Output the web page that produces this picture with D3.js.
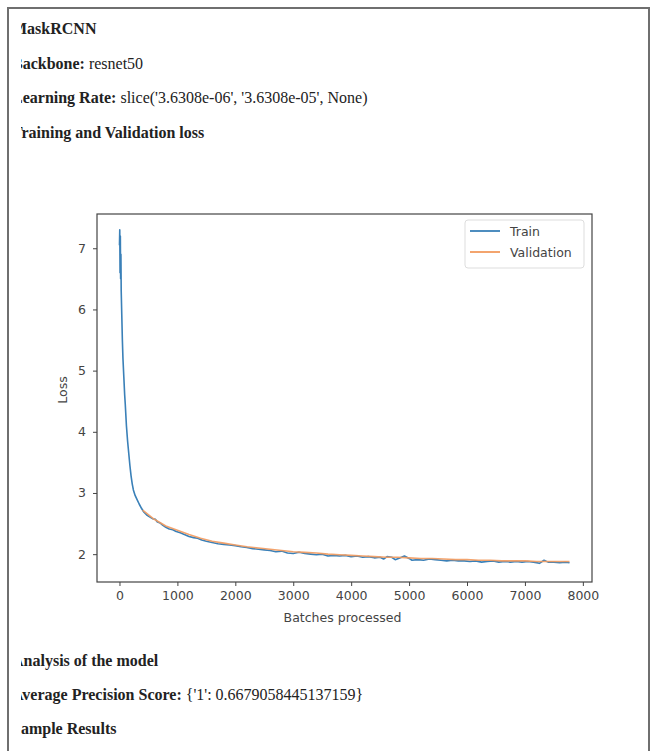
<!DOCTYPE html>
<html>
<head>
<meta charset="utf-8">
<script src="https://cdn.jsdelivr.net/npm/d3@7"></script>
<style>
  body { margin: 0; background: #fff; }
  svg { display: block; }
  .doc { font-family: "Liberation Serif", "Times New Roman", serif; font-size: 16px; fill: #222; }
  .doc .b { font-weight: bold; }
  .plot { font-family: "DejaVu Sans", sans-serif; }
  .axis text { font-size: 12.5px; fill: #444; font-family: "DejaVu Sans", sans-serif; }
  .axis path, .axis line { stroke: #444; }
</style>
</head>
<body>
<svg id="page" width="651" height="751"></svg>
<script>
// header / footer text of the report
const headerLines = [
  { bold: 'MaskRCNN', rest: '' },
  { bold: 'Backbone:', rest: ' resnet50' },
  { bold: 'Learning Rate:', rest: " slice('3.6308e-06', '3.6308e-05', None)" },
  { bold: 'Training and Validation loss', rest: '' }
];
const footerLines = [
  { bold: 'Analysis of the model', rest: '' },
  { bold: 'Average Precision Score:', rest: " {'1': 0.6679058445137159}" },
  { bold: 'Sample Results', rest: '' }
];

// training loss per batch
const trainBatch = [0, 5, 10, 15, 20, 25, 30, 40, 50, 60, 75, 90, 100, 120, 140, 160, 180, 200, 220, 240, 270, 300,
  340, 380, 420, 470, 520, 570, 620, 650, 700, 750, 800, 860, 920, 980, 1050, 1120, 1200, 1280, 1350, 1420, 1500,
  1600, 1700, 1800, 1900, 2000, 2100, 2200, 2300, 2400, 2500, 2600, 2700, 2800, 2900, 3000, 3100, 3200, 3300, 3400,
  3500, 3600, 3700, 3800, 3900, 4000, 4100, 4200, 4300, 4400, 4500, 4560, 4620, 4700, 4760, 4850, 4920, 5000, 5050,
  5150, 5250, 5350, 5450, 5550, 5650, 5750, 5850, 5950, 6050, 6150, 6250, 6350, 6450, 6550, 6650, 6750, 6850, 6950,
  7050, 7150, 7250, 7330, 7400, 7500, 7600, 7700, 7770];
const trainLoss = [7.05, 7.3, 6.6, 7.2, 6.5, 6.9, 6.3, 5.9, 5.5, 5.2, 4.9, 4.6, 4.45, 4.1, 3.85, 3.65, 3.45, 3.28, 3.15,
  3.05, 2.96, 2.9, 2.82, 2.75, 2.69, 2.64, 2.61, 2.58, 2.57, 2.53, 2.51, 2.47, 2.44, 2.41, 2.40, 2.37, 2.35, 2.32,
  2.29, 2.27, 2.26, 2.23, 2.21, 2.19, 2.17, 2.16, 2.15, 2.14, 2.12, 2.11, 2.09, 2.08, 2.07, 2.06, 2.04, 2.05, 2.02,
  2.01, 2.03, 2.01, 2.00, 1.99, 2.00, 1.97, 1.98, 1.97, 1.98, 1.96, 1.97, 1.95, 1.96, 1.94, 1.95, 1.92, 1.96, 1.95,
  1.91, 1.94, 1.97, 1.93, 1.90, 1.91, 1.90, 1.92, 1.91, 1.90, 1.89, 1.90, 1.89, 1.89, 1.88, 1.89, 1.87, 1.88, 1.89,
  1.87, 1.88, 1.87, 1.88, 1.87, 1.88, 1.87, 1.85, 1.90, 1.87, 1.87, 1.86, 1.87, 1.86];

// validation loss
const validBatch = [400, 600, 800, 1000, 1200, 1400, 1600, 1800, 2000, 2200, 2400, 2600, 2800, 3000, 3200, 3400, 3600,
  3800, 4000, 4200, 4400, 4600, 4800, 5000, 5200, 5400, 5600, 5800, 6000, 6200, 6400, 6600, 6800, 7000, 7200, 7400,
  7600, 7770];
const validLoss = [2.72, 2.57, 2.46, 2.39, 2.32, 2.26, 2.21, 2.18, 2.15, 2.12, 2.10, 2.08, 2.06, 2.04, 2.03, 2.02, 2.00,
  1.99, 1.98, 1.97, 1.96, 1.95, 1.95, 1.94, 1.93, 1.93, 1.92, 1.91, 1.91, 1.90, 1.90, 1.89, 1.89, 1.89, 1.88, 1.88,
  1.88, 1.88];

const xTicks = [0, 1000, 2000, 3000, 4000, 5000, 6000, 7000, 8000];
const yTicks = [2, 3, 4, 5, 6, 7];
const seriesNames = ['Train', 'Validation'];
const colors = ['#3a80b8', '#f29a5e'];

const svg = d3.select('#page');

// page frame
svg.append('path')
  .attr('d', 'M8,760 V8 H649 V760')
  .attr('fill', 'none')
  .attr('stroke', '#6f6f6f')
  .attr('stroke-width', 2);

// text, clipped on the left like the scanned page
svg.append('clipPath').attr('id', 'textclip')
  .append('rect').attr('x', 21).attr('y', 0).attr('width', 620).attr('height', 751);

const doc = svg.append('g').attr('class', 'doc').attr('clip-path', 'url(#textclip)');
function writeLines(lines, y0, step) {
  lines.forEach((l, i) => {
    const t = doc.append('text').attr('x', 12).attr('y', y0 + i * step);
    t.append('tspan').attr('class', 'b').text(l.bold);
    if (l.rest) t.append('tspan').text(l.rest);
  });
}
writeLines(headerLines, 34, 34.5);
writeLines(footerLines, 666, 34);

// chart
const plot = { left: 97, top: 214, right: 592, bottom: 582 };
const x = d3.scaleLinear().domain([-388, 8158]).range([plot.left, plot.right]);
const y = d3.scaleLinear().domain([1.545, 7.56]).range([plot.bottom, plot.top]);

const g = svg.append('g').attr('class', 'plot');

const line = d3.line().x(d => x(d[0])).y(d => y(d[1]));
const trainData = trainBatch.map((b, i) => [b, trainLoss[i]]);
const validData = validBatch.map((b, i) => [b, validLoss[i]]);

g.append('path').datum(trainData)
  .attr('d', line).attr('fill', 'none')
  .attr('stroke', colors[0]).attr('stroke-width', 1.6).attr('stroke-linejoin', 'round');
g.append('path').datum(validData)
  .attr('d', line).attr('fill', 'none')
  .attr('stroke', colors[1]).attr('stroke-width', 1.6).attr('stroke-opacity', 0.9).attr('stroke-linejoin', 'round');

g.append('g').attr('class', 'axis')
  .attr('transform', `translate(0,${plot.bottom})`)
  .call(d3.axisBottom(x).tickValues(xTicks).tickFormat(d3.format('d')).tickSize(4).tickPadding(5))
  .call(a => a.select('.domain').remove());
g.append('g').attr('class', 'axis')
  .attr('transform', `translate(${plot.left},0)`)
  .call(d3.axisLeft(y).tickValues(yTicks).tickFormat(d3.format('d')).tickSize(4).tickPadding(7))
  .call(a => a.select('.domain').remove());

// spines
g.append('rect')
  .attr('x', plot.left).attr('y', plot.top)
  .attr('width', plot.right - plot.left).attr('height', plot.bottom - plot.top)
  .attr('fill', 'none').attr('stroke', '#444').attr('stroke-width', 1.2);

g.append('text')
  .attr('x', (plot.left + plot.right) / 2 - 2).attr('y', 622)
  .attr('text-anchor', 'middle').attr('font-size', 12.5).attr('fill', '#444')
  .text('Batches processed');
g.append('text')
  .attr('transform', 'translate(67,390) rotate(-90)')
  .attr('text-anchor', 'middle').attr('font-size', 12.5).attr('fill', '#444')
  .text('Loss');

// legend
const lg = g.append('g');
lg.append('rect')
  .attr('x', 465).attr('y', 220).attr('width', 119).attr('height', 48).attr('rx', 3)
  .attr('fill', '#fff').attr('stroke', '#ddd');
seriesNames.forEach((name, i) => {
  const ly = 231 + i * 21;
  lg.append('line').attr('x1', 470).attr('x2', 500).attr('y1', ly).attr('y2', ly)
    .attr('stroke', colors[i]).attr('stroke-width', 1.8);
  lg.append('text').attr('x', 510).attr('y', ly + 4.5)
    .attr('font-size', 12.5).attr('fill', '#444').text(name);
});
</script>
</body>
</html>
